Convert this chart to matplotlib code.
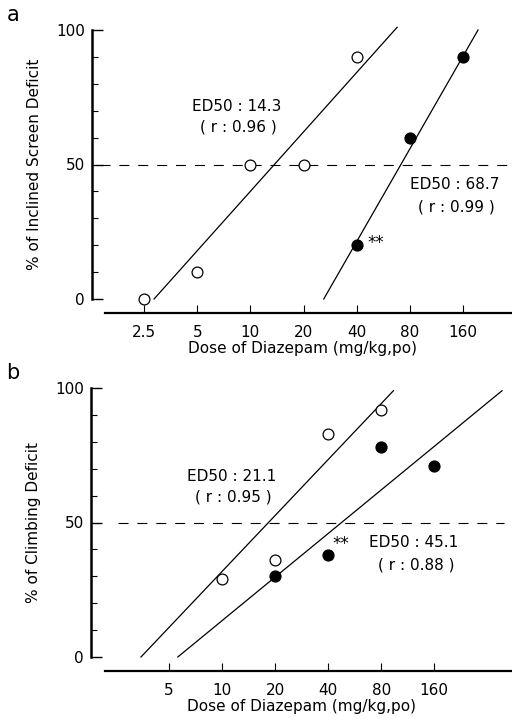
import numpy as np
import matplotlib
matplotlib.use("Agg")
import matplotlib.pyplot as plt
from matplotlib.ticker import FixedLocator, NullFormatter

plt.rcParams['font.family'] = ['DejaVu Sans']

# panel a: inclined screen
a_open_dose = [2.5, 5, 10, 20, 40]
a_open_pct = [0, 10, 50, 50, 90]
a_fill_dose = [40, 80, 160]
a_fill_pct = [20, 60, 90]
# fitted lines (endpoints)
a_open_fit_dose = [2.85, 67.6]
a_open_fit_pct = [0, 101]
a_fill_fit_dose = [26, 194]
a_fill_fit_pct = [0, 100]
a_ticks = [2.5, 5, 10, 20, 40, 80, 160]
a_ticklabels = ['2.5', '5', '10', '20', '40', '80', '160']

# panel b: climbing
b_open_dose = [10, 20, 40, 80]
b_open_pct = [29, 36, 83, 92]
b_fill_dose = [20, 40, 80, 160]
b_fill_pct = [30, 38, 78, 71]
b_open_fit_dose = [3.46, 94]
b_open_fit_pct = [0, 99]
b_fill_fit_dose = [5.6, 389]
b_fill_fit_pct = [0, 99]
b_ticks = [5, 10, 20, 40, 80, 160]
b_ticklabels = ['5', '10', '20', '40', '80', '160']

W, H = 512, 719
fig = plt.figure(figsize=(W / 100, H / 100), dpi=100)


def px(x0, y0, x1, y1):
    # pixel box -> figure fraction
    return [x0 / W, 1 - y1 / H, (x1 - x0) / W, (y1 - y0) / H]


def panel(ax, xlim, xstart, ticks, labels, ylabel, dash_from, dash_to):
    ax.set_xscale('log', base=2)
    ax.set_xlim(*xlim)
    ax.set_ylim(0, 100)
    for s in ['top', 'right']:
        ax.spines[s].set_visible(False)
    ax.spines['left'].set_linewidth(1.8)
    ax.spines['bottom'].set_linewidth(1.6)
    ax.spines['bottom'].set_position(('outward', 10))
    ax.spines['bottom'].set_bounds(xstart, xlim[1])
    ax.xaxis.set_major_locator(FixedLocator(ticks))
    ax.xaxis.set_minor_locator(FixedLocator([]))
    ax.set_xticklabels(labels)
    ax.xaxis.set_minor_formatter(NullFormatter())
    ax.set_yticks([0, 50, 100])
    ax.set_yticks(np.arange(10, 100, 10), minor=True)
    ax.tick_params(axis='x', direction='in', length=6, width=0.8, pad=8.5, labelsize=11)
    ax.tick_params(axis='y', which='major', direction='in', length=8, width=1.0, pad=5, labelsize=11)
    ax.tick_params(axis='y', which='minor', direction='in', length=4, width=0.8)
    ax.set_xlabel('Dose of Diazepam (mg/kg,po)', fontsize=11, labelpad=1)
    ax.set_ylabel(ylabel, fontsize=11, labelpad=10)
    ax.axhline(50, xmin=dash_from, xmax=dash_to, color='black', lw=0.8,
               dashes=(9, 8), zorder=1)


ax1 = fig.add_axes(px(92, 30, 512, 299))
panel(ax1, (1.27, 302), 1.5, a_ticks, a_ticklabels,
      '% of Inclined Screen Deficit', 0.02, 1.0)
ax1.plot(a_open_fit_dose, a_open_fit_pct, color='black', lw=0.9, clip_on=False)
ax1.plot(a_fill_fit_dose, a_fill_fit_pct, color='black', lw=0.9, clip_on=False)
ax1.plot(a_open_dose, a_open_pct, 'o', ms=7.8, mfc='white', mec='black',
         mew=0.9, clip_on=False, zorder=3)
ax1.plot(a_fill_dose, a_fill_pct, 'o', ms=7.8, mfc='black', mec='black',
         clip_on=False, zorder=3)
ax1.text(8.4, 71.4, 'ED50 : 14.3', ha='center', va='center', fontsize=11)
ax1.text(8.6, 64, '( r : 0.96 )', ha='center', va='center', fontsize=11)
ax1.text(144, 42.4, 'ED50 : 68.7', ha='center', va='center', fontsize=11)
ax1.text(146, 34.2, '( r : 0.99 )', ha='center', va='center', fontsize=11)
ax1.text(51.3, 21, '**', ha='center', va='center', fontsize=12)

ax2 = fig.add_axes(px(91, 388, 512, 657))
panel(ax2, (1.8, 443), 2.16, b_ticks, b_ticklabels,
      '% of Climbing Deficit', 0.064, 0.98)
ax2.plot(b_open_fit_dose, b_open_fit_pct, color='black', lw=0.9, clip_on=False)
ax2.plot(b_fill_fit_dose, b_fill_fit_pct, color='black', lw=0.9, clip_on=False)
ax2.plot(b_open_dose, b_open_pct, 'o', ms=7.8, mfc='white', mec='black',
         mew=0.9, clip_on=False, zorder=3)
ax2.plot(b_fill_dose, b_fill_pct, 'o', ms=7.8, mfc='black', mec='black',
         clip_on=False, zorder=3)
ax2.text(11.25, 67, 'ED50 : 21.1', ha='center', va='center', fontsize=11)
ax2.text(11.6, 59.5, '( r : 0.95 )', ha='center', va='center', fontsize=11)
ax2.text(123, 42.4, 'ED50 : 45.1', ha='center', va='center', fontsize=11)
ax2.text(126, 34.2, '( r : 0.88 )', ha='center', va='center', fontsize=11)
ax2.text(47, 42, '**', ha='center', va='center', fontsize=12)

fig.text(13 / W, 1 - 15 / H, 'a', ha='center', va='center', fontsize=15)
fig.text(13 / W, 1 - 373 / H, 'b', ha='center', va='center', fontsize=15)

fig.savefig('out.png', dpi=100)
